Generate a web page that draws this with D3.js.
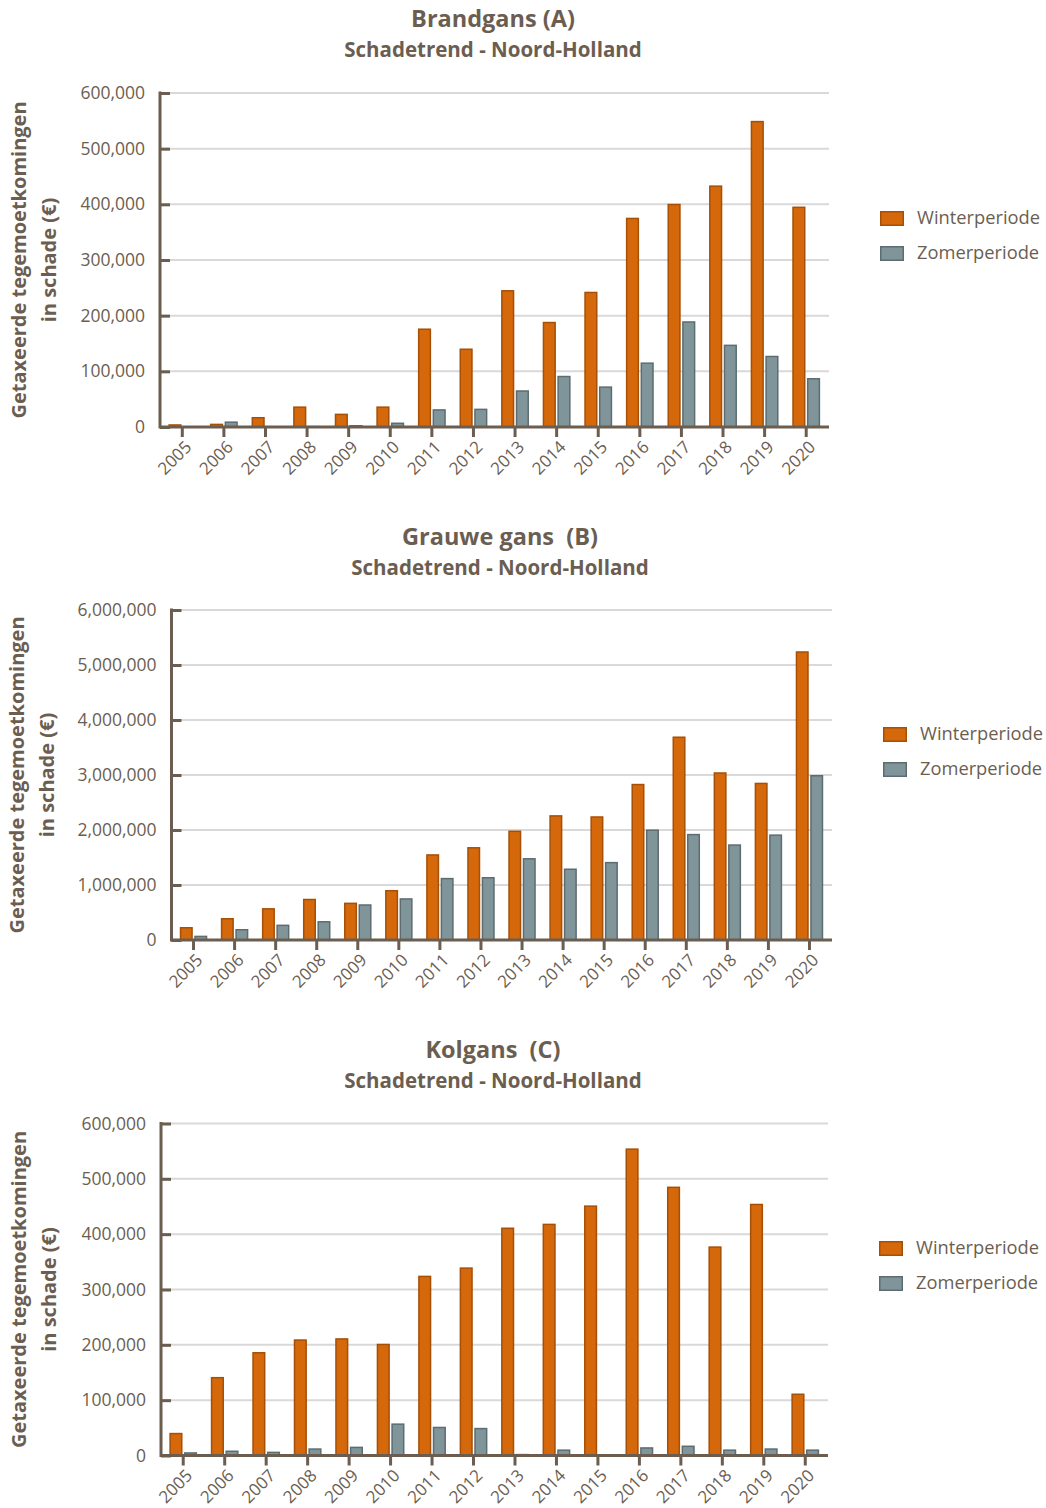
<!DOCTYPE html>
<html>
<head>
<meta charset="utf-8">
<script src="https://cdn.jsdelivr.net/npm/d3@7"></script>
<style>
  html, body { margin: 0; padding: 0; background: #fff; }
  svg { display: block; }
  text { font-family: "Open Sans", "Noto Sans", sans-serif; }
</style>
</head>
<body>
<svg id="chart" width="1046" height="1508"></svg>
<script>
// ---------- DATA ----------
const years = ["2005","2006","2007","2008","2009","2010","2011","2012","2013","2014","2015","2016","2017","2018","2019","2020"];
const seriesNames = ["Winterperiode", "Zomerperiode"];

const brandgansWinter = [5000, 6000, 18000, 37000, 24000, 37000, 177000, 141000, 246000, 189000, 243000, 376000, 401000, 434000, 550000, 396000];
const brandgansZomer  = [0, 10000, 1000, 2000, 3600, 8000, 32000, 33000, 66000, 92000, 73000, 116000, 190000, 148000, 128000, 88000];

const grauweWinter = [236000, 400000, 580000, 750000, 680000, 910000, 1560000, 1690000, 1990000, 2270000, 2250000, 2840000, 3700000, 3050000, 2860000, 5250000];
const grauweZomer  = [79000, 200000, 280000, 345000, 650000, 760000, 1130000, 1145000, 1490000, 1300000, 1420000, 2010000, 1930000, 1740000, 1920000, 3000000];

const kolgansWinter = [41000, 142000, 187000, 210000, 212000, 202000, 325000, 340000, 412000, 419000, 452000, 555000, 486000, 378000, 455000, 112000];
const kolgansZomer  = [6000, 9000, 7000, 13000, 16000, 58000, 52000, 50000, 3000, 11000, 0, 15000, 18000, 11000, 13000, 11000];

const brandgansTicks = [0, 100000, 200000, 300000, 400000, 500000, 600000];
const grauweTicks = [0, 1000000, 2000000, 3000000, 4000000, 5000000, 6000000];
const kolgansTicks = [0, 100000, 200000, 300000, 400000, 500000, 600000];

const titles = ["Brandgans (A)", "Grauwe gans  (B)", "Kolgans  (C)"];
const subtitle = "Schadetrend - Noord-Holland";
const yTitle1 = "Getaxeerde tegemoetkomingen";
const yTitle2 = "in schade (€)";

// ---------- STYLE ----------
const textColor = "#6b5e51";
const axisColor = "#6b5e51";
const gridColor = "#d9d9d9";
const fills = ["#d4680a", "#80959a"];
const strokes = ["#a54f07", "#5c6c71"];

const svg = d3.select("#chart");
const fmt = d3.format(",");

function drawChart(cfg) {
  const g = svg.append("g");
  const y = d3.scaleLinear().domain([0, cfg.ticks[cfg.ticks.length - 1]]).range([cfg.bottom, cfg.top]);
  const x = d3.scaleBand().domain(years).range([cfg.left + 1.5, cfg.right - 2]);
  const step = x.step();
  const xs = d3.scaleBand().domain(seriesNames).range([-0.335 * step, 0.335 * step]).paddingInner(0.1);

  // titles
  g.append("text").attr("x", cfg.titleX).attr("y", cfg.titleY)
    .attr("text-anchor", "middle").attr("font-size", 23.5).attr("font-weight", 700)
    .attr("fill", textColor).style("white-space", "pre").text(cfg.title);
  g.append("text").attr("x", cfg.titleX).attr("y", cfg.titleY + 30)
    .attr("text-anchor", "middle").attr("font-size", 20.5).attr("font-weight", 700)
    .attr("fill", textColor).text(subtitle);

  // gridlines
  g.append("g").selectAll("line").data(cfg.ticks.filter(t => t > 0)).join("line")
    .attr("x1", cfg.left).attr("x2", cfg.right)
    .attr("y1", d => y(d)).attr("y2", d => y(d))
    .attr("stroke", gridColor).attr("stroke-width", 2);

  // bars
  const series = [cfg.winter, cfg.zomer];
  series.forEach((vals, si) => {
    g.append("g").selectAll("rect").data(vals).join("rect")
      .attr("x", (d, i) => x(years[i]) + step / 2 + xs(seriesNames[si]) + 0.75)
      .attr("width", xs.bandwidth() - 1.5)
      .attr("y", d => y(d) + 0.75)
      .attr("height", d => Math.max(0, cfg.bottom - y(d) - 0.75))
      .attr("fill", fills[si]).attr("stroke", strokes[si]).attr("stroke-width", 1.5);
  });

  // y axis
  const yAxis = d3.axisRight(y).tickValues(cfg.ticks).tickSize(10).tickFormat("");
  const ya = g.append("g").attr("transform", `translate(${cfg.left},0)`).call(yAxis);
  ya.select(".domain").remove();
  ya.selectAll(".tick line").attr("stroke", axisColor).attr("stroke-width", 3);
  g.append("line").attr("x1", cfg.left).attr("x2", cfg.left)
    .attr("y1", cfg.top - 1.5).attr("y2", cfg.bottom + 1.5)
    .attr("stroke", axisColor).attr("stroke-width", 3);
  g.append("g").selectAll("text").data(cfg.ticks).join("text")
    .attr("x", cfg.left - 15).attr("y", d => y(d)).attr("dy", "0.35em")
    .attr("text-anchor", "end").attr("font-size", 17.5).attr("fill", textColor)
    .text(d => fmt(d));

  // x axis
  const xAxis = d3.axisBottom(x).tickSize(10).tickFormat("");
  const xa = g.append("g").attr("transform", `translate(0,${cfg.bottom})`).call(xAxis);
  xa.select(".domain").remove();
  xa.selectAll(".tick line").attr("stroke", axisColor).attr("stroke-width", 3);
  g.append("line").attr("x1", cfg.left).attr("x2", cfg.right)
    .attr("y1", cfg.bottom).attr("y2", cfg.bottom)
    .attr("stroke", axisColor).attr("stroke-width", 3);
  g.append("g").selectAll("text").data(years).join("text")
    .attr("transform", d => `translate(${x(d) + step / 2 + 6},${cfg.bottom + 17}) rotate(-45)`)
    .attr("text-anchor", "end").attr("dy", "0.35em")
    .attr("font-size", 17).attr("fill", textColor).text(d => d);

  // y title
  const cy = (cfg.top + cfg.bottom) / 2;
  g.append("text").attr("transform", `translate(${cfg.yTitleX},${cy}) rotate(-90)`)
    .attr("text-anchor", "middle").attr("font-size", 20).attr("font-weight", 700)
    .attr("fill", textColor).text(yTitle1);
  g.append("text").attr("transform", `translate(${cfg.yTitleX + 30},${cy}) rotate(-90)`)
    .attr("text-anchor", "middle").attr("font-size", 20).attr("font-weight", 700)
    .attr("fill", textColor).text(yTitle2);

  // legend
  seriesNames.forEach((name, i) => {
    const ly = cfg.legendY + i * 35;
    g.append("rect").attr("x", cfg.legendX + 0.75).attr("y", ly - 6.25)
      .attr("width", 22.5).attr("height", 13.5)
      .attr("fill", fills[i]).attr("stroke", strokes[i]).attr("stroke-width", 1.5);
    g.append("text").attr("x", cfg.legendX + 37).attr("y", ly).attr("dy", "0.35em")
      .attr("font-size", 18.3).attr("fill", textColor).text(name);
  });
}

drawChart({ title: titles[0], titleX: 493, titleY: 27, top: 93, bottom: 427, left: 160, right: 829,
  ticks: brandgansTicks, winter: brandgansWinter, zomer: brandgansZomer,
  yTitleX: 26, legendX: 880, legendY: 218 });
drawChart({ title: titles[1], titleX: 500, titleY: 545, top: 610, bottom: 940, left: 171.5, right: 832,
  ticks: grauweTicks, winter: grauweWinter, zomer: grauweZomer,
  yTitleX: 24, legendX: 883, legendY: 734 });
drawChart({ title: titles[2], titleX: 493, titleY: 1058, top: 1123.5, bottom: 1455.5, left: 161, right: 828,
  ticks: kolgansTicks, winter: kolgansWinter, zomer: kolgansZomer,
  yTitleX: 26, legendX: 879, legendY: 1248 });
</script>
</body>
</html>
